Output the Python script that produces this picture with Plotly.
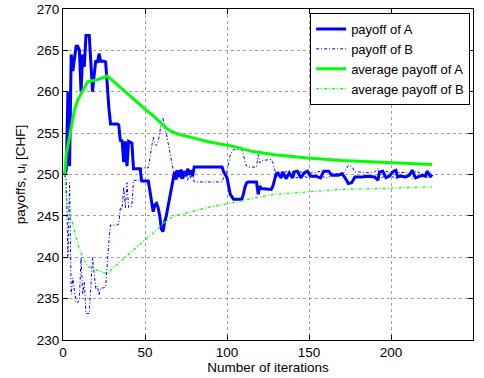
import plotly.graph_objects as go

# Iteration index and per-iteration payoffs of the two players
iters = [1, 2, 3, 4, 5, 6, 7, 8, 9, 10, 11, 12, 13, 14, 15, 16, 17, 18, 19, 20,
         21, 22, 23, 24, 25, 26, 27, 28, 29, 33, 34, 35, 36, 37, 38, 39, 40, 42, 43, 47,
         48, 52, 53, 54, 55, 56, 57, 58, 59, 60, 61, 62, 63, 64, 65, 66, 67, 68, 69, 70,
         71, 72, 73, 74, 75, 76, 77, 78, 79, 80, 97, 98, 99, 100, 101, 102, 103, 104, 109, 110,
         111, 112, 113, 118, 119, 120, 121, 127, 128, 129, 130, 131, 133, 134, 136, 138, 140, 141, 143, 145,
         147, 149, 151, 154, 157, 159, 162, 164, 168, 170, 172, 174, 176, 178, 182, 186, 190, 192, 193, 195,
         197, 199, 201, 203, 204, 206, 209, 211, 213, 215, 217, 219, 221, 222, 223, 224, 225]

payoff_A = [250.0, 250.5, 260.0, 251.0, 264.5, 262.5, 264.0, 265.5, 265.5, 265.0, 260.0, 264.5, 263.0, 266.8, 266.8, 266.8, 263.5, 260.0, 262.0, 263.8,
            263.5, 264.6, 263.7, 263.7, 263.7, 263.6, 260.0, 258.0, 256.1, 256.1, 256.0, 254.0, 254.2, 251.5, 254.0, 251.0, 254.0, 253.8, 250.7, 250.7,
            249.2, 249.2, 248.0, 246.9, 245.5, 246.3, 246.5, 246.0, 245.0, 243.4, 243.1, 244.3, 245.0, 246.1, 247.2, 248.3, 249.5, 250.3, 249.4, 250.5,
            249.7, 250.6, 249.5, 250.4, 249.8, 250.7, 250.0, 250.5, 249.8, 250.9, 250.9, 250.3, 250.0, 249.6, 248.6, 247.6, 247.3, 247.0, 247.0, 247.6,
            248.5, 249.0, 249.1, 249.1, 247.6, 248.6, 248.3, 248.2, 248.6, 249.5, 250.1, 250.2, 249.6, 250.3, 249.5, 250.2, 249.6, 250.3, 250.4, 249.6,
            250.2, 250.4, 249.8, 249.8, 249.6, 250.4, 250.4, 249.9, 249.9, 250.1, 249.6, 248.9, 249.0, 249.7, 249.7, 249.8, 249.7, 249.3, 250.3, 250.4,
            249.6, 249.8, 250.3, 250.5, 249.7, 249.8, 249.7, 249.9, 250.5, 249.6, 249.8, 249.9, 249.8, 250.4, 250.1, 249.7, 250.0]

payoff_B = [250.0, 249.5, 240.0, 249.0, 235.5, 237.5, 236.0, 234.5, 234.5, 235.0, 240.0, 235.5, 237.0, 233.2, 233.2, 233.2, 236.5, 240.0, 238.0, 236.2,
            236.5, 235.4, 236.3, 236.3, 236.3, 236.4, 240.0, 242.0, 243.9, 243.9, 244.0, 246.0, 245.8, 248.5, 246.0, 249.0, 246.0, 246.2, 249.3, 249.3,
            250.8, 250.8, 252.0, 253.1, 254.5, 253.7, 253.5, 254.0, 255.0, 256.6, 256.9, 255.7, 255.0, 253.9, 252.8, 251.7, 250.5, 249.7, 250.6, 249.5,
            250.3, 249.4, 250.5, 249.6, 250.2, 249.3, 250.0, 249.5, 250.2, 249.1, 249.1, 249.7, 250.0, 250.4, 251.4, 252.4, 252.7, 253.0, 253.0, 252.4,
            251.5, 251.0, 250.9, 250.9, 252.4, 251.4, 251.7, 251.8, 251.4, 250.5, 249.9, 249.8, 250.4, 249.7, 250.5, 249.8, 250.4, 249.7, 249.6, 250.4,
            249.8, 249.6, 250.2, 250.2, 250.4, 249.6, 249.6, 250.1, 250.1, 249.9, 250.4, 251.1, 251.0, 250.3, 250.3, 250.2, 250.3, 250.7, 249.7, 249.6,
            250.4, 250.2, 249.7, 249.5, 250.3, 250.2, 250.3, 250.1, 249.5, 250.4, 250.2, 250.1, 250.2, 249.6, 249.9, 250.3, 250.0]

# Running averages
avg_iters = [1, 2, 3, 5, 7, 9, 11, 13, 15, 17, 20, 23, 26, 27, 30, 35, 40, 50, 55, 60,
             63, 66, 70, 80, 90, 104, 115, 129, 149, 170, 190, 210, 225]
avg_A = [250.0, 252.5, 253.5, 255.8, 257.8, 259.0, 259.8, 260.5, 261.2, 261.3, 261.4, 261.6, 261.9, 261.9, 261.4, 260.5, 259.6, 257.9, 257.1, 256.2,
         255.6, 255.2, 254.9, 254.4, 253.9, 253.4, 252.8, 252.4, 252.0, 251.7, 251.5, 251.3, 251.2]
avg_B = [250.0, 247.0, 246.3, 244.6, 243.0, 241.6, 240.5, 239.6, 238.9, 238.7, 238.5, 238.3, 238.1, 238.0, 238.6, 239.5, 240.4, 242.1, 242.9, 243.8,
         244.4, 244.8, 245.1, 245.6, 246.1, 246.6, 247.1, 247.6, 247.9, 248.2, 248.3, 248.4, 248.5]

x_ticks = [0, 50, 100, 150, 200, 250]
y_ticks = [230, 235, 240, 245, 250, 255, 260, 265, 270]

FONT = "Liberation Sans, Arial, sans-serif"
DASHDOT = "3px,2px,1px,2px"

fig = go.Figure()
fig.add_trace(go.Scatter(x=iters, y=payoff_A, mode="lines", name="payoff of A",
                         line=dict(color="#0000ff", width=3)))
fig.add_trace(go.Scatter(x=iters, y=payoff_B, mode="lines", name="payoff of B",
                         line=dict(color="#0000ff", width=1, dash=DASHDOT)))
fig.add_trace(go.Scatter(x=avg_iters, y=avg_A, mode="lines", name="average payoff of A",
                         line=dict(color="#00ff00", width=3)))
fig.add_trace(go.Scatter(x=avg_iters, y=avg_B, mode="lines", name="average payoff of B",
                         line=dict(color="#00ff00", width=1.2, dash=DASHDOT)))

axis_common = dict(
    showline=True, linecolor="black", linewidth=1, mirror="allticks",
    ticks="inside", ticklen=5, tickcolor="black",
    showgrid=True, gridcolor="#a0a0a0", griddash="dot", gridwidth=1,
    zeroline=False, tickfont=dict(family=FONT, size=13.5, color="black"),
)

fig.update_xaxes(range=[0, 250], tickvals=x_ticks,
                 title=dict(text="Number of iterations", font=dict(family=FONT, size=13.5, color="black"), standoff=2),
                 **axis_common)
fig.update_yaxes(range=[230, 270], tickvals=y_ticks,
                 title=dict(text="payoffs, u<sub>i</sub> [CHF]", font=dict(family=FONT, size=13.5, color="black"), standoff=8),
                 **axis_common)

fig.update_layout(
    width=484, height=378,
    margin=dict(l=63, r=11, t=9, b=38, autoexpand=False),
    paper_bgcolor="white", plot_bgcolor="white",
    showlegend=True,
    legend=dict(x=0.993, y=0.988, xanchor="right", yanchor="top",
                bgcolor="white", bordercolor="black", borderwidth=1,
                font=dict(family=FONT, size=13, color="black"),
                tracegroupgap=0, itemwidth=30),
)

fig.write_html("out.html")
